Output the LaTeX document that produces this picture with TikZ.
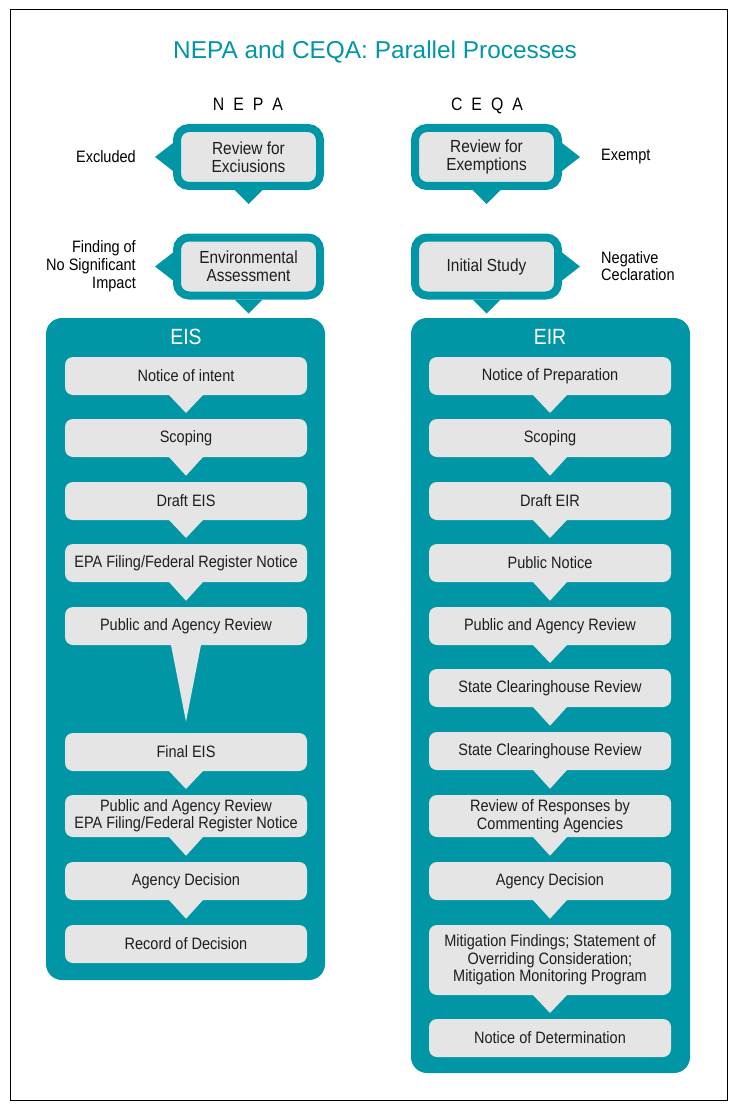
\documentclass[tikz,border=0pt]{standalone}
\usepackage{fontspec}
\setmainfont{Liberation Sans}[FakeStretch=0.88]
\newfontfamily\titlefont{Liberation Sans}
\usetikzlibrary{calc}
\definecolor{cqteal}{RGB}{0,150,166}
\definecolor{boxgrey}{RGB}{229,229,229}
\definecolor{textgrey}{RGB}{30,30,30}
\tikzset{
  stepbox/.style={fill=boxgrey, rounded corners=8pt, minimum width=242pt, inner sep=0pt, outer sep=0pt,
    text=textgrey, align=center, font=\fontsize{16.5}{17}\selectfont},
  bubble/.style={fill=boxgrey, draw=cqteal, line width=8pt, rounded corners=12pt, minimum width=143pt,
    minimum height=58pt, inner sep=0pt, text=textgrey, align=center, font=\fontsize{17.5}{18}\selectfont},
  sidelabel/.style={text=black, inner sep=0pt, font=\fontsize{16.5}{18}\selectfont},
  paneltitle/.style={text=white, font=\fontsize{22}{24}\selectfont}
}
\begin{document}
\begin{tikzpicture}[x=1pt,y=-1pt]
  \useasboundingbox (0,0) rectangle (739,1110);
  % Frame
  \draw[line width=1pt] (10,10) rectangle (727,1100);

  % Title and column heads
  \node[text=cqteal, font=\titlefont\fontsize{24.4}{28}\selectfont] (title) at (375,52) {NEPA and CEQA: Parallel Processes};
  \node[anchor=base, font=\fontsize{18}{20}\selectfont] (nepa) at (248,111) {N\hspace{9pt}E\hspace{9pt}P\hspace{9pt}A};
  \node[anchor=base, font=\fontsize{18}{20}\selectfont] (ceqa) at (487,111) {C\hspace{9pt}E\hspace{9pt}Q\hspace{9pt}A};

  % Screening bubbles
  \node[bubble] (excl) at (248.5,157) {Review for\\Exciusions};
  \node[bubble] (ea)   at (248.5,266.5) {Environmental\\Assessment};
  \node[bubble] (exem) at (486.5,157) {Review for\\Exemptions};
  \node[bubble] (init) at (486.5,266.5) {Initial Study};
  \foreach \b in {excl,ea} {
    \fill[cqteal] ([yshift=14]\b.west) -- ([yshift=-14]\b.west) -- ([xshift=-18]\b.west) -- cycle;
    \fill[cqteal] ([xshift=-14]\b.south) -- ([xshift=14]\b.south) -- ([yshift=-14]\b.south) -- cycle;
  }
  \foreach \b in {exem,init} {
    \fill[cqteal] ([yshift=14]\b.east) -- ([yshift=-14]\b.east) -- ([xshift=18]\b.east) -- cycle;
    \fill[cqteal] ([xshift=-14]\b.south) -- ([xshift=14]\b.south) -- ([yshift=-14]\b.south) -- cycle;
  }

  % Outcomes
  \node[sidelabel, anchor=east] (excluded) at (136,157) {Excluded};
  \node[sidelabel, anchor=east, align=right] (fonsi) at (136,266) {Finding of\\No Significant\\Impact};
  \node[sidelabel, anchor=west] (exempt) at (601,157) {Exempt};
  \node[sidelabel, anchor=west, align=left, font=\fontsize{16.5}{17}\selectfont] (negdec) at (601,266) {Negative\\Ceclaration};

  % Panels
  \fill[cqteal, rounded corners=16pt] (46,318) rectangle (325,980);
  \fill[cqteal, rounded corners=16pt] (411,318) rectangle (690,1073);
  \node[paneltitle] (eistitle) at (186,337) {EIS};
  \node[paneltitle] (eirtitle) at (550,337) {EIR};

  % NEPA steps
  \foreach [count=\i] \y/\h/\t in {376/38/{Notice of intent}, 438/38/{Scoping}, 501/38/{Draft EIS},
      563/38/{EPA Filing/Federal Register Notice}, 626/38/{Public and Agency Review}, 752/38/{Final EIS},
      816/42/{Public and Agency Review\\EPA Filing/Federal Register Notice}, 881/38/{Agency Decision},
      944/38/{Record of Decision}} {
    \node[stepbox, minimum height=\h pt] (eis\i) at (186,\y) {\t};
  }
  % CEQA steps
  \foreach [count=\i] \y/\h/\t in {376/38/{Notice of Preparation}, 438/38/{Scoping}, 501/38/{Draft EIR},
      563/38/{Public Notice}, 626/38/{Public and Agency Review}, 688/38/{State Clearinghouse Review},
      751/38/{State Clearinghouse Review}, 816/42/{Review of Responses by\\Commenting Agencies},
      881/38/{Agency Decision},
      960/70/{Mitigation Findings; Statement of\\Overriding Consideration;\\Mitigation Monitoring Program},
      1038/38/{Notice of Determination}} {
    \node[stepbox, minimum height=\h pt, font=\fontsize{16.5}{17.5}\selectfont] (eir\i) at (550,\y) {\t};
  }

  % Pointers between steps
  \foreach \a/\b in {eis1/eis2, eis2/eis3, eis3/eis4, eis4/eis5, eis6/eis7, eis7/eis8, eis8/eis9,
      eir1/eir2, eir2/eir3, eir3/eir4, eir4/eir5, eir5/eir6, eir6/eir7, eir7/eir8, eir8/eir9,
      eir9/eir10, eir10/eir11} {
    \fill[boxgrey] ([xshift=-17]\a.south) -- ([xshift=17]\a.south) -- ($(\a.south)!0.75!(\b.north)$) -- cycle;
  }
  % long review period
  \fill[boxgrey] ([xshift=-15]eis5.south) -- ([xshift=15]eis5.south) -- ($(eis5.south)!0.87!(eis6.north)$) -- cycle;
\end{tikzpicture}
\end{document}
